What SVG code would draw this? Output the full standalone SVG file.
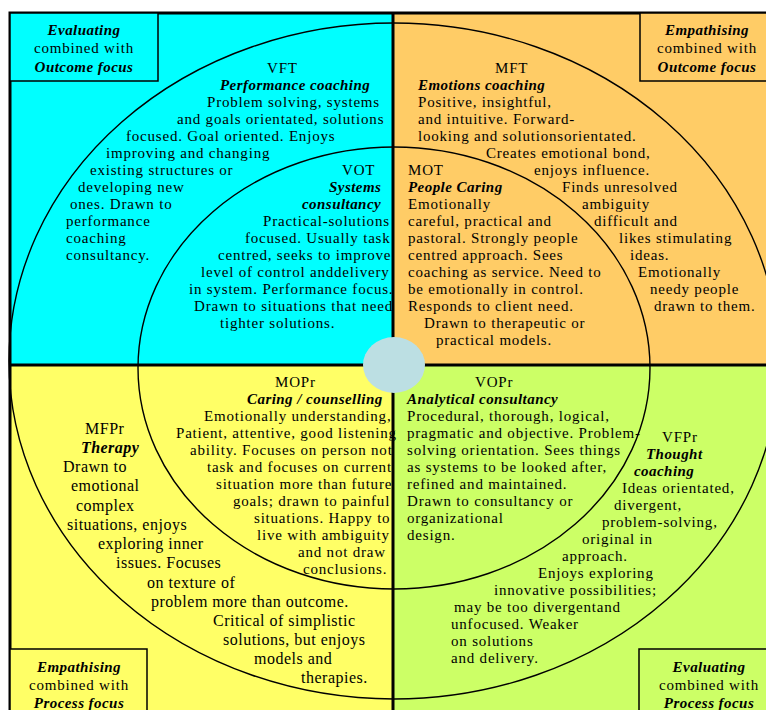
<svg xmlns="http://www.w3.org/2000/svg" width="766" height="710" viewBox="0 0 766 710">
<style>
.t{font-family:"Liberation Serif","Times New Roman",serif;font-size:15px;letter-spacing:0.8px;fill:#000}
.m{font-size:16px;letter-spacing:0.5px}
.b{font-weight:bold;font-style:italic;letter-spacing:0.45px}
.c{text-anchor:middle}
.arc{fill:none;stroke:#000;stroke-width:1.4}
.div{stroke:#000;stroke-width:3;fill:none}
.box{stroke:#000;stroke-width:1.5}
</style>
<rect width="766" height="710" fill="#fff"/>
<g id="quadrants">
<rect x="10" y="13" width="383" height="352" fill="#00FFFF"/>
<rect x="393" y="13" width="380" height="352" fill="#FFCC66"/>
<rect x="10" y="365" width="383" height="350" fill="#FFFF66"/>
<rect x="393" y="365" width="380" height="350" fill="#CCFF66"/>
</g>
<g id="rings">
<ellipse class="arc" cx="394" cy="361" rx="385" ry="338"/>
<ellipse class="arc" cx="394" cy="368" rx="256" ry="221"/>
</g>
<g id="frame">
<path class="div" d="M10,720 V13 H780"/>
<path class="div" d="M393,13 V720 M10,365 H780"/>
</g>
<g id="corner-tl">
<rect class="box" x="10" y="13" width="148" height="68" fill="#00FFFF"/>
<text class="t c" x="84"><tspan class="b" x="84" y="35">Evaluating</tspan><tspan x="84" y="53">combined with</tspan><tspan class="b" x="84" y="72">Outcome focus</tspan></text>
</g>
<g id="corner-tr">
<rect class="box" x="640" y="13" width="140" height="68" fill="#FFCC66"/>
<text class="t c" x="707"><tspan class="b" x="707" y="35">Empathising</tspan><tspan x="707" y="53">combined with</tspan><tspan class="b" x="707" y="72">Outcome focus</tspan></text>
</g>
<g id="corner-bl">
<rect class="box" x="10" y="649" width="137" height="70" fill="#FFFF66"/>
<text class="t c" x="79"><tspan class="b" x="79" y="672">Empathising</tspan><tspan x="79" y="690">combined with</tspan><tspan class="b" x="79" y="708">Process focus</tspan></text>
</g>
<g id="corner-br">
<rect class="box" x="639" y="649" width="140" height="70" fill="#CCFF66"/>
<text class="t c" x="709"><tspan class="b" x="709" y="672">Evaluating</tspan><tspan x="709" y="690">combined with</tspan><tspan class="b" x="709" y="708">Process focus</tspan></text>
</g>
<g id="VFT">
<text class="t"><tspan x="267" y="73">VFT</tspan><tspan class="b" x="220" y="90">Performance coaching</tspan><tspan x="207" y="107">Problem solving, systems</tspan><tspan x="177" y="124">and goals orientated, solutions</tspan><tspan x="126" y="141">focused. Goal oriented. Enjoys</tspan><tspan x="106" y="158">improving and changing</tspan><tspan x="90" y="175">existing structures or</tspan><tspan x="78" y="192">developing new</tspan><tspan x="70" y="209">ones. Drawn to</tspan><tspan x="66" y="226">performance</tspan><tspan x="66" y="243">coaching</tspan><tspan x="66" y="260">consultancy.</tspan></text>
</g>
<g id="VOT">
<text class="t"><tspan x="342" y="175">VOT</tspan><tspan class="b" x="329" y="192">Systems</tspan><tspan class="b" x="302" y="209">consultancy</tspan><tspan x="263" y="226">Practical-solutions</tspan><tspan x="245" y="243">focused. Usually task</tspan><tspan x="218" y="260">centred, seeks to improve</tspan><tspan x="201" y="277">level of control anddelivery</tspan><tspan x="189" y="294">in system. Performance focus.</tspan><tspan x="194" y="311">Drawn to situations that need</tspan><tspan x="220" y="328">tighter solutions.</tspan></text>
</g>
<g id="MFT">
<text class="t"><tspan x="495" y="73">MFT</tspan><tspan class="b" x="418" y="90">Emotions coaching</tspan><tspan x="418" y="107">Positive, insightful,</tspan><tspan x="418" y="124">and intuitive. Forward-</tspan><tspan x="418" y="141">looking and solutionsorientated.</tspan><tspan x="486" y="158">Creates emotional bond,</tspan><tspan x="534" y="175">enjoys influence.</tspan><tspan x="562" y="192">Finds unresolved</tspan><tspan x="582" y="209">ambiguity</tspan><tspan x="594" y="226">difficult and</tspan><tspan x="619" y="243">likes stimulating</tspan><tspan x="630" y="260">ideas.</tspan><tspan x="638" y="277">Emotionally</tspan><tspan x="650" y="294">needy people</tspan><tspan x="654" y="311">drawn to them.</tspan></text>
</g>
<g id="MOT">
<text class="t"><tspan x="408" y="175">MOT</tspan><tspan class="b" x="408" y="192">People Caring</tspan><tspan x="408" y="209">Emotionally</tspan><tspan x="408" y="226">careful, practical and</tspan><tspan x="408" y="243">pastoral. Strongly people</tspan><tspan x="408" y="260">centred approach. Sees</tspan><tspan x="408" y="277">coaching as service. Need to</tspan><tspan x="408" y="294">be emotionally in control.</tspan><tspan x="408" y="311">Responds to client need.</tspan><tspan x="424" y="328">Drawn to therapeutic or</tspan><tspan x="436" y="345">practical models.</tspan></text>
</g>
<g id="MOPr">
<text class="t"><tspan x="275" y="387">MOPr</tspan><tspan class="b" x="247" y="404">Caring / counselling</tspan><tspan x="204" y="421">Emotionally understanding,</tspan><tspan x="176" y="438">Patient, attentive, good listening</tspan><tspan x="190" y="455">ability. Focuses on person not</tspan><tspan x="207" y="472">task and focuses on current</tspan><tspan x="216" y="489">situation more than future</tspan><tspan x="233" y="506">goals; drawn to painful</tspan><tspan x="254" y="523">situations. Happy to</tspan><tspan x="257" y="540">live with ambiguity</tspan><tspan x="298" y="557">and not draw</tspan><tspan x="303" y="574">conclusions.</tspan></text>
</g>
<g id="MFPr">
<text class="t m"><tspan x="85" y="434">MFPr</tspan><tspan class="b" x="81" y="453">Therapy</tspan><tspan x="63" y="472">Drawn to</tspan><tspan x="71" y="491">emotional</tspan><tspan x="76" y="511">complex</tspan><tspan x="67" y="530">situations, enjoys</tspan><tspan x="98" y="549">exploring inner</tspan><tspan x="116" y="568">issues. Focuses</tspan><tspan x="147" y="588">on texture of</tspan><tspan x="151" y="607">problem more than outcome.</tspan><tspan x="213" y="626">Critical of simplistic</tspan><tspan x="223" y="645">solutions, but enjoys</tspan><tspan x="254" y="664">models and</tspan><tspan x="301" y="683">therapies.</tspan></text>
</g>
<g id="VOPr">
<text class="t"><tspan x="475" y="387">VOPr</tspan><tspan class="b" x="407" y="404">Analytical consultancy</tspan><tspan x="407" y="421">Procedural, thorough, logical,</tspan><tspan x="407" y="438">pragmatic and objective. Problem-</tspan><tspan x="407" y="455">solving orientation. Sees things</tspan><tspan x="407" y="472">as systems to be looked after,</tspan><tspan x="407" y="489">refined and maintained.</tspan><tspan x="407" y="506">Drawn to consultancy or</tspan><tspan x="407" y="523">organizational</tspan><tspan x="407" y="540">design.</tspan></text>
</g>
<g id="VFPr">
<text class="t"><tspan x="662" y="442">VFPr</tspan><tspan class="b" x="646" y="459">Thought</tspan><tspan class="b" x="634" y="476">coaching</tspan><tspan x="622" y="493">Ideas orientated,</tspan><tspan x="614" y="510">divergent,</tspan><tspan x="602" y="527">problem-solving,</tspan><tspan x="582" y="544">original in</tspan><tspan x="562" y="561">approach.</tspan><tspan x="538" y="578">Enjoys exploring</tspan><tspan x="494" y="595">innovative possibilities;</tspan><tspan x="454" y="612">may be too divergentand</tspan><tspan x="451" y="629">unfocused. Weaker</tspan><tspan x="451" y="646">on solutions</tspan><tspan x="451" y="663">and delivery.</tspan></text>
</g>
<g id="hub">
<ellipse cx="394" cy="365" rx="31" ry="28" fill="#BCDFE3"/>
</g>
<g id="connectors"></g>
</svg>
